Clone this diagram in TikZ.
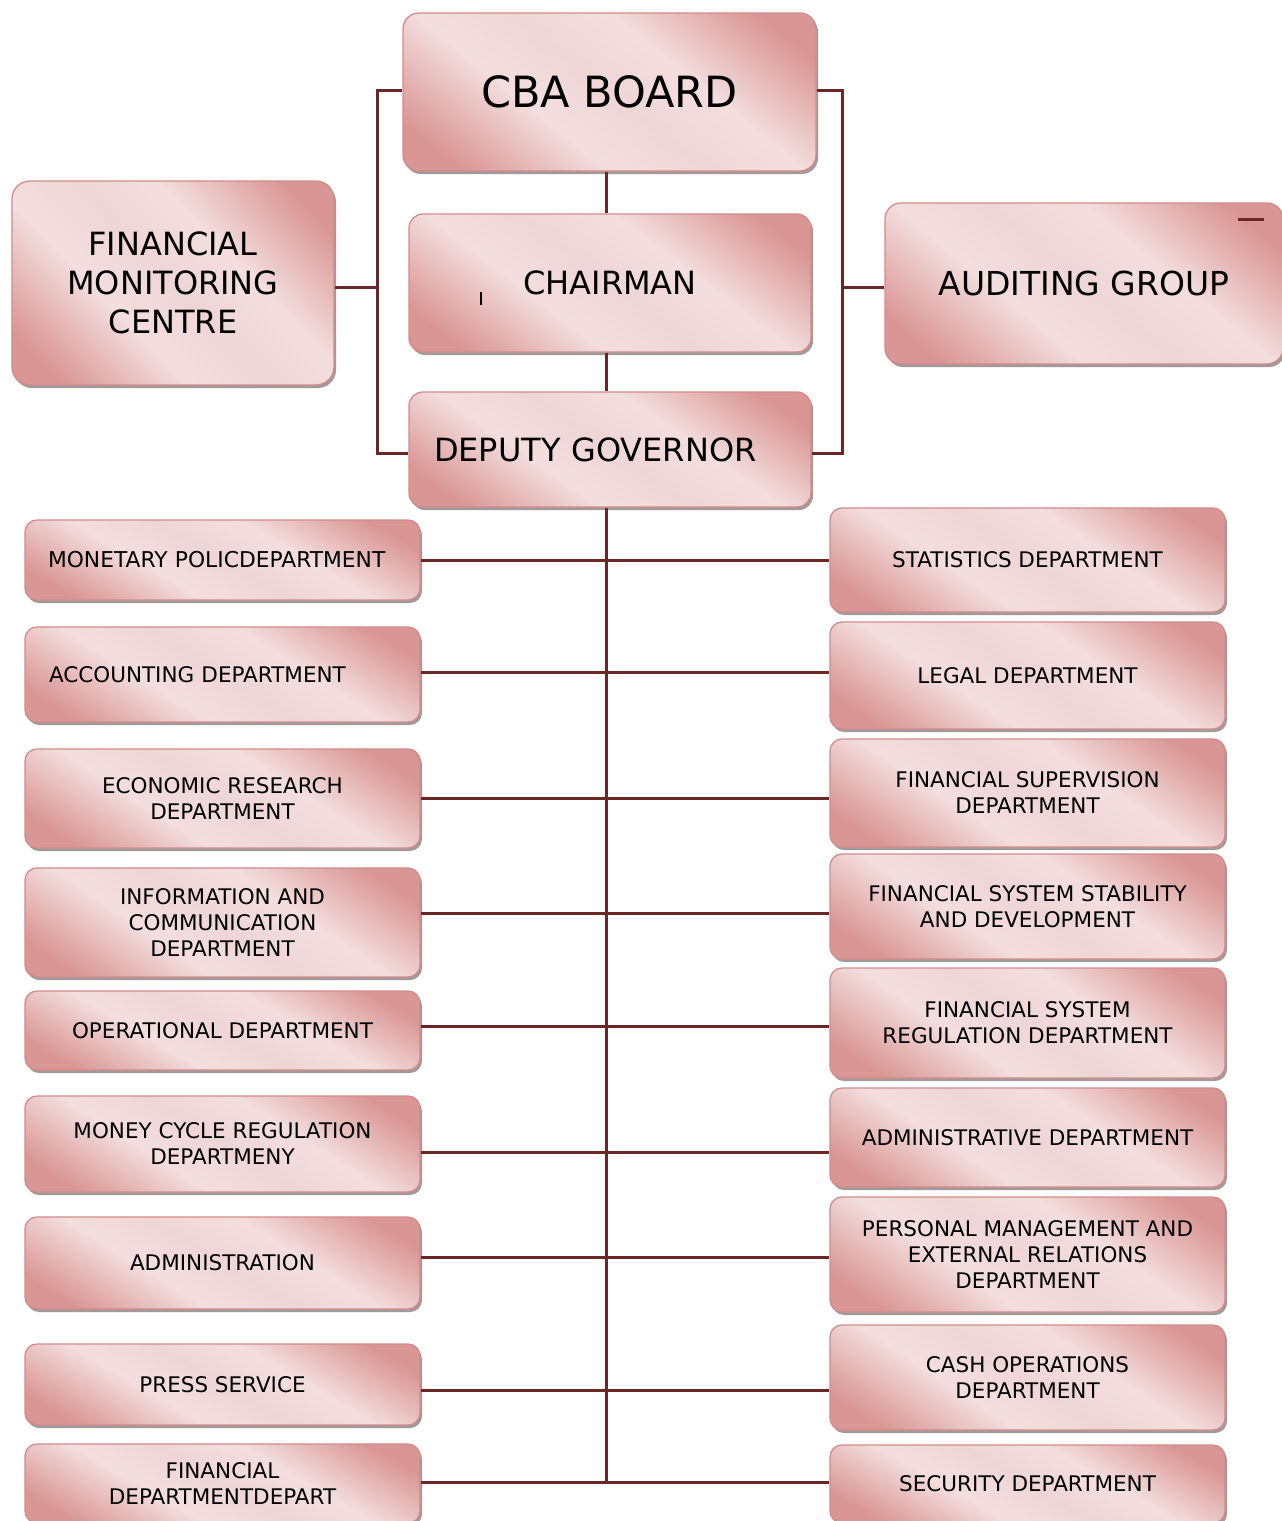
\documentclass[tikz,border=0pt]{standalone}
\usepackage{fontspec}
\setmainfont{DejaVu Sans}
\definecolor{bdark}{HTML}{D99694}
\definecolor{blight}{HTML}{F3DEDE}
\definecolor{bmid}{HTML}{EFD6D6}
\definecolor{bedge}{HTML}{D48A8A}
\definecolor{conncol}{HTML}{6B2626}
\definecolor{shadowcol}{HTML}{A09A9A}
\pgfdeclarehorizontalshading{boxshade}{100bp}{color(0bp)=(bdark); color(30bp)=(bdark); color(42bp)=(blight); color(50bp)=(bmid); color(58bp)=(blight); color(70bp)=(bdark); color(100bp)=(bdark)}
\newcommand\deptfont{\fontsize{21.5}{26}\selectfont}
\tikzset{
  boxnode/.style={draw=bedge, line width=1.3pt, text=black, inner sep=0pt, align=center},
  dept/.style={font=\deptfont},
  conn/.style={draw=conncol, line width=3pt},
}
% #1 name, #2 cx, #3 cy, #4 w, #5 h, #6 radius, #7 node options, #8 text
\newcommand\gbox[8]{%
  \fill[shadowcol, rounded corners=#6pt] ({#2-#4/2+2},{#3-#5/2+3}) rectangle ({#2+#4/2+2},{#3+#5/2+3});
  \pgfmathsetmacro\gphi{atan(1.3*sqrt(#5/#4))}%
  \pgfmathsetmacro\gth{90-\gphi}%
  \pgfmathsetmacro\gsx{((#4/2)*sin(\gphi)+(#5/2)*cos(\gphi))/50}%
  \pgfmathsetmacro\gsy{(#4+#5)/100}%
  \begin{scope}
    \clip[rounded corners=#6pt] ({#2-#4/2},{#3-#5/2}) rectangle ({#2+#4/2},{#3+#5/2});
    \shade[shading=boxshade, transform canvas={shift={(#2,#3)}, rotate=\gth, xscale=\gsx, yscale=\gsy}] (-50,-50) rectangle (50,50);
  \end{scope}
  \node[boxnode, minimum width=#4pt, minimum height=#5pt, rounded corners=#6pt, #7] (#1) at (#2,#3) {#8};
}
\begin{document}
\begin{tikzpicture}[x=1pt,y=-1pt]
\useasboundingbox (0,0) rectangle (1282,1521);
% top
\gbox{cba}{609.5}{92}{413}{158}{16}{font=\fontsize{43}{50}\selectfont}{CBA BOARD}
\gbox{ch}{610}{283}{402}{138}{14}{font=\fontsize{32}{39}\selectfont}{CHAIRMAN}
\gbox{dep}{610}{449.5}{402}{115}{14}{text width=352pt, inner xsep=25pt, align=left, font=\fontsize{32}{39}\selectfont}{DEPUTY GOVERNOR}
\gbox{fmc}{173}{283}{322}{204}{18}{font=\fontsize{32}{39}\selectfont}{FINANCIAL\\MONITORING\\CENTRE}
\gbox{aud}{1084}{283.5}{398}{161}{16}{font=\fontsize{33}{40}\selectfont}{AUDITING GROUP}
% left column
\gbox{L1}{222.5}{560}{395}{80}{12}{dept, text width=349pt, inner xsep=23pt, align=left, font=\fontsize{21.8}{26}\selectfont}{MONETARY POLICDEPARTMENT}
\gbox{L2}{222.5}{674.5}{395}{95}{12}{dept, text width=347pt, inner xsep=24pt, align=left}{ACCOUNTING DEPARTMENT}
\gbox{L3}{222.5}{798.5}{395}{99}{12}{dept}{ECONOMIC RESEARCH\\DEPARTMENT}
\gbox{L4}{222.5}{922.5}{395}{109}{12}{dept}{INFORMATION AND\\COMMUNICATION\\DEPARTMENT}
\gbox{L5}{222.5}{1030.5}{395}{79}{12}{dept}{OPERATIONAL DEPARTMENT}
\gbox{L6}{222.5}{1144}{395}{96}{12}{dept}{MONEY CYCLE REGULATION\\DEPARTMENY}
\gbox{L7}{222.5}{1263}{395}{92}{12}{dept}{ADMINISTRATION}
\gbox{L8}{222.5}{1384.5}{395}{81}{12}{dept}{PRESS SERVICE}
\gbox{L9}{222.5}{1483.5}{395}{79}{12}{dept}{FINANCIAL\\DEPARTMENTDEPART}
% right column
\gbox{R1}{1027.5}{560}{395}{104}{12}{dept}{STATISTICS DEPARTMENT}
\gbox{R2}{1027.5}{675.5}{395}{107}{12}{dept}{LEGAL DEPARTMENT}
\gbox{R3}{1027.5}{793}{395}{108}{12}{dept}{FINANCIAL SUPERVISION\\DEPARTMENT}
\gbox{R4}{1027.5}{906.5}{395}{105}{12}{dept}{FINANCIAL SYSTEM STABILITY\\AND DEVELOPMENT}
\gbox{R5}{1027.5}{1023}{395}{110}{12}{dept}{FINANCIAL SYSTEM\\REGULATION DEPARTMENT}
\gbox{R6}{1027.5}{1137.5}{395}{99}{12}{dept}{ADMINISTRATIVE DEPARTMENT}
\gbox{R7}{1027.5}{1254.5}{395}{115}{12}{dept}{PERSONAL MANAGEMENT AND\\EXTERNAL RELATIONS\\DEPARTMENT}
\gbox{R8}{1027.5}{1377.5}{395}{105}{12}{dept}{CASH OPERATIONS\\DEPARTMENT}
\gbox{R9}{1027.5}{1484}{395}{78}{12}{dept}{SECURITY DEPARTMENT}
% connectors
\coordinate (lb) at (377,287);
\coordinate (rb) at (842,287);
\coordinate (sp) at (606,0);
\coordinate (spend) at (606,1482);
\draw[conn] (cba.west |- 0,90) -| (lb) |- (dep.west |- 0,453);
\draw[conn] (fmc.east |- lb) -- (lb);
\draw[conn] (cba.east |- 0,90) -| (rb) |- (dep.east |- 0,453);
\draw[conn] (aud.west |- rb) -- (rb);
\draw[conn] (cba.south -| sp) -- (ch.north -| sp);
\draw[conn] (ch.south -| sp) -- (dep.north -| sp);
\draw[conn] (dep.south -| sp) -- (spend);
\draw[conn] (L1.east |- 0,560) -- (R1.west |- 0,560);
\draw[conn] (L2.east |- 0,672) -- (R2.west |- 0,672);
\draw[conn] (L3.east |- 0,798) -- (R3.west |- 0,798);
\draw[conn] (L4.east |- 0,913) -- (R4.west |- 0,913);
\draw[conn] (L5.east |- 0,1026) -- (R5.west |- 0,1026);
\draw[conn] (L6.east |- 0,1152) -- (R6.west |- 0,1152);
\draw[conn] (L7.east |- 0,1257) -- (R7.west |- 0,1257);
\draw[conn] (L8.east |- 0,1390) -- (R8.west |- 0,1390);
\draw[conn] (L9.east |- 0,1482) -- (R9.west |- 0,1482);
% stray marks
\draw[black, line width=1.5pt] (481,292) -- (481,305);
\draw[conncol, line width=3pt] (1238,219) -- (1264,219);
\end{tikzpicture}
\end{document}
